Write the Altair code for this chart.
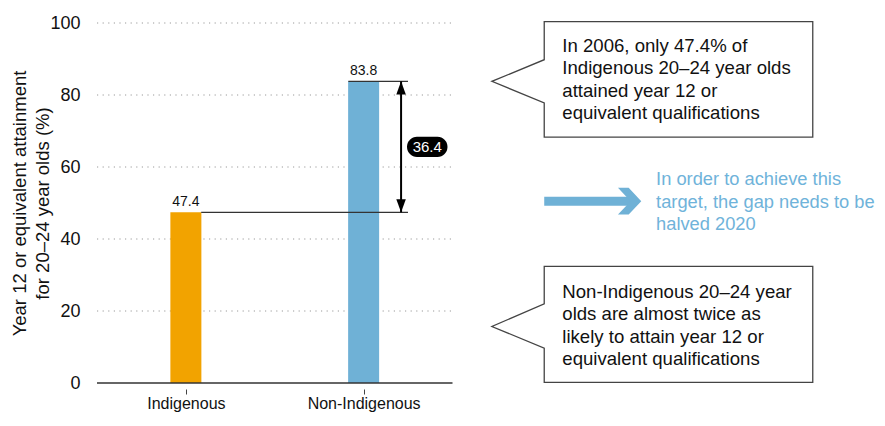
import altair as alt
import pandas as pd

# ---------------- data ----------------
categories = ["Indigenous", "Non-Indigenous"]
attainment = [47.4, 83.8]
bar_colors = ["#F2A300", "#6FB1D6"]
y_ticks = [0, 20, 40, 60, 80, 100]
y_title = ["Year 12 or equivalent attainment", "for 20–24 year olds (%)"]
callout_top = ["In 2006, only 47.4% of", "Indigenous 20–24 year olds",
               "attained year 12 or", "equivalent qualifications"]
callout_bottom = ["Non-Indigenous 20–24 year", "olds are almost twice as",
                  "likely to attain year 12 or", "equivalent qualifications"]
target_note = ["In order to achieve this", "target, the gap needs to be", "halved 2020"]

gap = round(attainment[1] - attainment[0], 1)

# ---------------- layout / style ----------------
FONT = "Liberation Sans, Arial, Helvetica, sans-serif"
TXT = "#111111"
BLUE_TXT = "#6FB3DA"
NOTE_SIZE = 18.6
W, H = 785, 360
X_DOMAIN = [0.5, 4.86]
PX = W / (X_DOMAIN[1] - X_DOMAIN[0])   # px per x unit
BAR_PX = 31
half = BAR_PX / 2 / PX

def u(px):  # page px (plot left at 92) -> x units
    return X_DOMAIN[0] + (px - 92) / PX

xs = alt.Scale(domain=X_DOMAIN, nice=False, zero=False)
ys = alt.Scale(domain=[0, 100], nice=False, zero=False)

def X(f):
    return alt.X(f, scale=xs)

def Y(f):
    return alt.Y(f, scale=ys)

pos = list(range(1, len(categories) + 1))
bars_df = pd.DataFrame({"pos": pos, "category": categories,
                        "value": attainment, "color": bar_colors})

label_expr = "[" + ",".join("'%s'" % c for c in categories) + "][datum.value - 1]"

# gridlines (only over the bar area) + axes definition
grid_df = pd.DataFrame({"y": y_ticks[1:], "x": [0.5] * 5, "x2": [2.5] * 5})
grid = alt.Chart(grid_df).mark_rule(
    color="#9a9a9a", strokeDash=[1.2, 4.4], strokeWidth=1
).encode(
    x=alt.X("x:Q", scale=xs, axis=alt.Axis(
        values=pos, labelExpr=label_expr, domain=False, grid=False,
        tickSize=5, tickColor="#444", tickWidth=1, offset=6,
        labelFontSize=16, labelPadding=1, labelColor=TXT, labelFont=FONT,
        title="")),
    x2="x2:Q",
    y=alt.Y("y:Q", scale=ys, axis=alt.Axis(
        values=y_ticks, grid=False, domain=False, ticks=False,
        labelPadding=12, labelFontSize=18, labelColor=TXT, labelFont=FONT,
        title=y_title, titleFontSize=18.5, titleFontWeight="normal",
        titleFont=FONT, titleColor=TXT, titlePadding=-3, titleLineHeight=23)),
)

bars = alt.Chart(bars_df).mark_bar(size=BAR_PX).encode(
    x=X("pos:Q"), y=Y("value:Q"),
    color=alt.Color("color:N", scale=None),
)

value_labels = alt.Chart(bars_df).mark_text(
    dy=-6, fontSize=14, font=FONT, color=TXT, baseline="alphabetic"
).encode(
    x=X("pos:Q"), y=Y("value:Q"),
    text=alt.Text("value:Q", format=".1f"),
)

baseline = alt.Chart(pd.DataFrame({"y": [0], "x": [X_DOMAIN[0]], "x2": [2.5]})).mark_rule(
    color="#333333", strokeWidth=1.3
).encode(x=X("x:Q"), x2="x2:Q", y=Y("y:Q"))

# reference lines from each bar top to the gap arrow
arrow_x = u(400)
ref_df = pd.DataFrame({
    "x": [pos[0] + half, pos[1] - half],
    "x2": [u(407), u(407)],
    "y": attainment,
})
ref_lines = alt.Chart(ref_df).mark_rule(color="#333333", strokeWidth=1.2).encode(
    x=X("x:Q"), x2="x2:Q", y=Y("y:Q"))

shaft = alt.Chart(pd.DataFrame({"x": [arrow_x], "y": [attainment[0]], "y2": [attainment[1]]})).mark_rule(
    color="black", strokeWidth=2
).encode(x=X("x:Q"), y=Y("y:Q"), y2="y2:Q")

head_up = alt.Chart(pd.DataFrame({"x": [arrow_x], "y": [attainment[1]]})).mark_point(
    shape="M0,0L0.36,1L-0.36,1Z", size=700, filled=True, color="black", opacity=1
).encode(x=X("x:Q"), y=Y("y:Q"))
head_down = alt.Chart(pd.DataFrame({"x": [arrow_x], "y": [attainment[0]]})).mark_point(
    shape="M0,0L0.36,-1L-0.36,-1Z", size=700, filled=True, color="black", opacity=1
).encode(x=X("x:Q"), y=Y("y:Q"))

mid = (attainment[0] + attainment[1]) / 2
pill_df = pd.DataFrame({"x": [u(406)], "x2": [u(447)], "y": [mid - 2.8], "y2": [mid + 2.8]})
pill = alt.Chart(pill_df).mark_rect(color="black", cornerRadius=10).encode(
    x=X("x:Q"), x2="x2:Q", y=Y("y:Q"), y2="y2:Q")
gap_label = alt.Chart(pd.DataFrame({"t": [f"{gap:.1f}"], "x": [u(426.5)], "y": [mid]})).mark_text(
    color="white", fontSize=15, font=FONT, baseline="middle", align="center"
).encode(x=X("x:Q"), y=Y("y:Q"), text="t:N")

# callout boxes (speech bubbles)
def bubble(group, top, bottom, base_top, tip, base_bot):
    xl, xr, xt = u(545), u(817), u(492)
    xm = (xl + xr) / 2
    pts = [(xm, top), (xr, top), (xr, bottom), (xl, bottom), (xl, base_bot),
           (xt, tip), (xl, base_top), (xl, top), (xm, top)]
    return [{"g": group, "o": i, "x": p[0], "y": p[1]} for i, p in enumerate(pts)]

bub_df = pd.DataFrame(bubble("a", 100.4, 68.3, 89.8, 83.8, 77.8) +
                      bubble("b", 32.4, 0.15, 22.0, 15.7, 9.7))
bubbles = alt.Chart(bub_df).mark_line(
    color="#444444", strokeWidth=1.3, strokeJoin="miter"
).encode(x=X("x:Q"), y=Y("y:Q"), order="o:Q", detail="g:N")

notes_df = pd.DataFrame({
    "t": ["\n".join(callout_top), "\n".join(callout_bottom)],
    "x": [u(563.3), u(563.3)],
    "y": [91.9, 23.6],
})
notes = alt.Chart(notes_df).mark_text(
    align="left", baseline="alphabetic", lineBreak="\n", lineHeight=22.3,
    fontSize=NOTE_SIZE, font=FONT, color=TXT
).encode(x=X("x:Q"), y=Y("y:Q"), text="t:N")

# blue arrow + target note
arrow_y = 50.5
blue_shaft = alt.Chart(pd.DataFrame({"x": [u(545)], "x2": [u(634)], "y": [arrow_y]})).mark_rule(
    color="#6FB1D6", strokeWidth=9, strokeCap="butt"
).encode(x=X("x:Q"), x2="x2:Q", y=Y("y:Q"))
blue_head = alt.Chart(pd.DataFrame({"x": [u(643.3)], "y": [arrow_y]})).mark_point(
    shape="M0,0L-0.94,-1L-1.74,-1L-0.8,0L-1.74,1L-0.94,1Z",
    size=(2 * 13.4) ** 2, filled=True, color="#6FB1D6", opacity=1
).encode(x=X("x:Q"), y=Y("y:Q"))

target_df = pd.DataFrame({"t": ["\n".join(target_note)], "x": [u(658.3)], "y": [54.9]})
target = alt.Chart(target_df).mark_text(
    align="left", baseline="alphabetic", lineBreak="\n", lineHeight=22.3,
    fontSize=18.3, font=FONT, color=BLUE_TXT
).encode(x=X("x:Q"), y=Y("y:Q"), text="t:N")

chart = alt.layer(
    grid, bars, baseline, ref_lines, shaft, head_up, head_down, pill, gap_label,
    value_labels, bubbles, notes, blue_shaft, blue_head, target
).properties(
    width=W, height=H,
    autosize=alt.AutoSizeParams(type="none"),
    padding={"left": 84, "top": 15, "right": 0, "bottom": 31},
).configure(font=FONT).configure_view(stroke=None)

chart.save("out.html", embed_options={"renderer": "svg", "actions": False})
